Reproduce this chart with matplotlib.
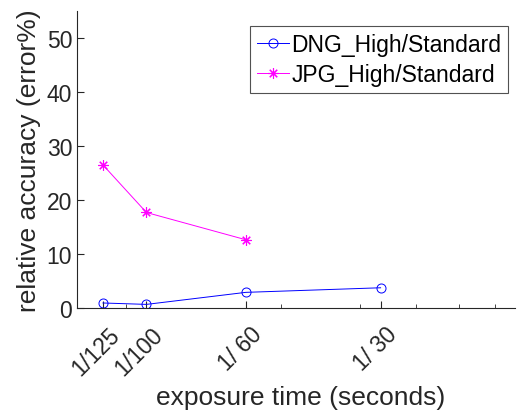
import matplotlib
matplotlib.use('Agg')
import matplotlib.pyplot as plt
from matplotlib.ticker import NullFormatter
from matplotlib.transforms import ScaledTranslation

plt.rcParams['font.family'] = ['Liberation Sans', 'DejaVu Sans']

# exposure times (seconds) and tick labels
exposure = [1/125, 1/100, 1/60, 1/30]
tick_labels = ['1/125', '1/100', '1/ 60', '1/ 30']

# relative error (%)
dng_err = [0.93, 0.67, 2.9, 3.75]
jpg_err = [26.5, 17.7, 12.65]

fig = plt.figure(figsize=(5.17, 4.14), dpi=100)
ax = fig.add_axes([0.149, 0.2536, 0.847, 0.717])

ax.plot(exposure, dng_err, color='#0000ff', lw=0.7, marker='o', ms=6.5,
        mfc='none', mew=0.7, label='DNG_High/Standard')
ax.plot(exposure[:3], jpg_err, color='#ff00ff', lw=0.7, marker=(8, 2, 0), ms=7.5,
        mew=0.8, label='JPG_High/Standard')

ax.set_xscale('log')
ax.set_xlim(0.007, 0.0665)
ax.set_ylim(0, 55)
ax.set_xticks(exposure)
ax.set_xticklabels(tick_labels, rotation=45, ha='right', rotation_mode='anchor')
ax.set_xticks([0.009, 0.02, 0.03, 0.04, 0.05, 0.06], minor=True)
ax.xaxis.set_minor_formatter(NullFormatter())
ax.set_yticks([0, 10, 20, 30, 40, 50])

axcol = '#262626'
for s in ['top', 'right']:
    ax.spines[s].set_visible(False)
for s in ['left', 'bottom']:
    ax.spines[s].set_color(axcol)
    ax.spines[s].set_linewidth(0.8)
ax.tick_params(which='both', direction='in', colors=axcol, labelsize=16.5)
ax.tick_params(which='major', length=5)
ax.tick_params(which='minor', length=3)
ax.tick_params(axis='x', which='major', pad=6)

ax.set_xlabel('exposure time (seconds)', fontsize=19, color=axcol)
ax.xaxis.set_label_coords(0.51, -0.26)
ax.set_ylabel('relative accuracy (error%)', fontsize=19, color=axcol)

leg = ax.legend(loc='upper right', fontsize=16.5, frameon=True, fancybox=False,
                handlelength=1.4, handletextpad=0.1, borderpad=0.3,
                labelspacing=0.3, borderaxespad=0, bbox_to_anchor=(0.985, 0.95))
leg.get_frame().set_edgecolor(axcol)
leg.get_frame().set_linewidth(0.8)

# nudge rotated labels like the original (after tick_params, which resets them)
shift = ScaledTranslation(5/100, -6/100, fig.dpi_scale_trans)
for tick in ax.xaxis.get_major_ticks():
    tick.label1.set_transform(tick.label1.get_transform() + shift)

fig.savefig('out.png', dpi=100)
